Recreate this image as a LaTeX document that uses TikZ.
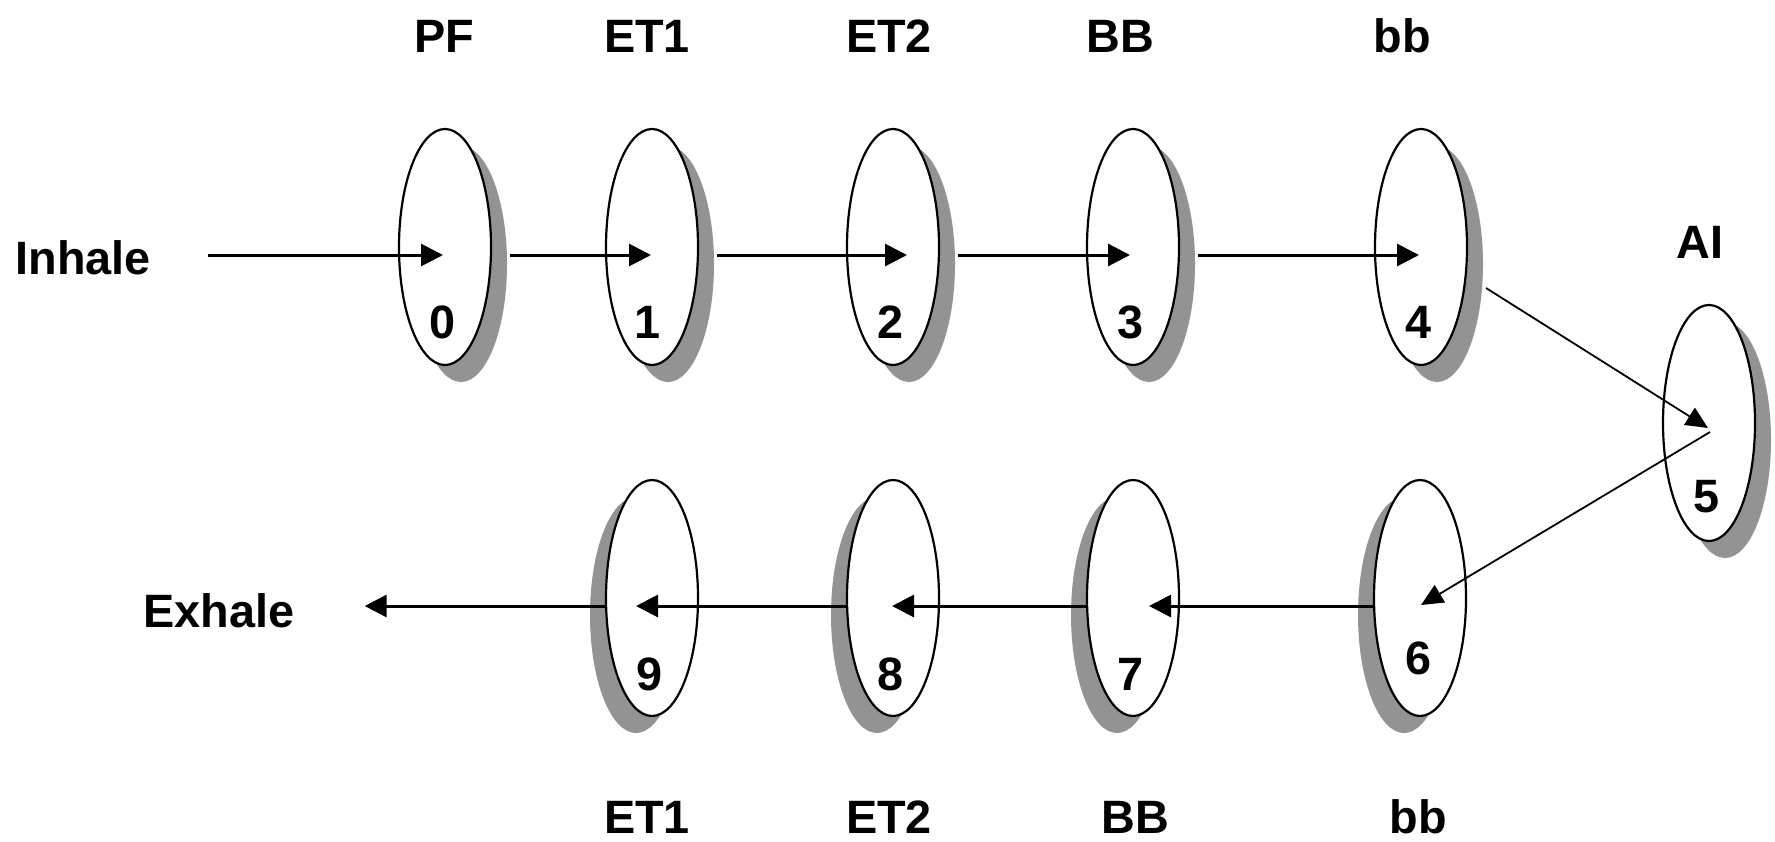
\documentclass[tikz,border=0pt]{standalone}
\usepackage{fontspec}
\setmainfont{Liberation Sans}
\usetikzlibrary{shapes.geometric,shadows,arrows.meta}
\definecolor{shadowgray}{RGB}{147,147,147}
\begin{document}
\begin{tikzpicture}[x=0.5pt,y=-0.5pt,
  disc/.style={ellipse, draw, line width=1.1pt, fill=white, minimum width=46pt, minimum height=118pt, inner sep=0pt},
  shR/.style={drop shadow={shadow xshift=8pt, shadow yshift=-8.5pt, fill=shadowgray, opacity=1}},
  shL/.style={drop shadow={shadow xshift=-8pt, shadow yshift=-8.5pt, fill=shadowgray, opacity=1}},
  lbl/.style={font=\fontsize{23.4}{28}\selectfont\bfseries, inner sep=0pt, anchor=base},
  harr/.style={line width=1.5pt, -{Triangle[length=11pt,width=11pt]}},
  darr/.style={line width=0.9pt, -{Triangle[length=11pt,width=10pt]}}]
\useasboundingbox (0,0) rectangle (1775,841);
% discs
\node[disc,shR] (e0) at (445,247) {};
\node[disc,shR] (e1) at (652,247) {};
\node[disc,shR] (e2) at (893,247) {};
\node[disc,shR] (e3) at (1133,247) {};
\node[disc,shR] (e4) at (1421,247) {};
\node[disc,shR] (e5) at (1709,423) {};
\node[disc,shL] (e6) at (1420,598) {};
\node[disc,shL] (e7) at (1133,598) {};
\node[disc,shL] (e8) at (893,598) {};
\node[disc,shL] (e9) at (652,598) {};
% side labels
\node[lbl,anchor=base west] (inhale) at (15,274) {Inhale};
\node[lbl,anchor=base west] (exhale) at (143,627) {Exhale};
% top labels
\node[lbl] (tPF) at (444,52) {PF};
\node[lbl] (tET1) at (647,52) {ET1};
\node[lbl] (tET2) at (889,52) {ET2};
\node[lbl] (tBB) at (1120,52) {BB};
\node[lbl] (tbb) at (1402,52) {bb};
\node[lbl] (tAI) at (1700,258) {AI};
% bottom labels
\node[lbl] (bET1) at (647,833) {ET1};
\node[lbl] (bET2) at (889,833) {ET2};
\node[lbl] (bBB) at (1135,833) {BB};
\node[lbl] (bbb) at (1418,833) {bb};
% arrows
\draw[harr] ([shift={(57,-19)}]inhale.base east) -- ([shift={(-2,8)}]e0.center);
\draw[harr] ([shift={(18,8)}]e0.east) -- ([shift={(-1,8)}]e1.center);
\draw[harr] ([shift={(18,8)}]e1.east) -- ([shift={(14,8)}]e2.center);
\draw[harr] ([shift={(18,8)}]e2.east) -- ([shift={(-3,8)}]e3.center);
\draw[harr] ([shift={(18,8)}]e3.east) -- ([shift={(-2,8)}]e4.center);
\draw[darr] ([shift={(65,41)}]e4.center) -- ([shift={(-1,5)}]e5.center);
\draw[darr] ([shift={(1,9)}]e5.center) -- ([shift={(1,7)}]e6.center);
\draw[harr] ([shift={(0,8)}]e6.west) -- ([shift={(16,8)}]e7.center);
\draw[harr] ([shift={(0,8)}]e7.west) -- ([shift={(-1,8)}]e8.center);
\draw[harr] ([shift={(0,8)}]e8.west) -- ([shift={(-16,8)}]e9.center);
\draw[harr] ([shift={(0,8)}]e9.west) -- ([shift={(70,-21)}]exhale.base east);
% numbers
\node[lbl] (n0) at (443,338) {0};
\node[lbl] (n1) at (648,338) {1};
\node[lbl] (n2) at (890,338) {2};
\node[lbl] (n3) at (1130,338) {3};
\node[lbl] (n4) at (1418,338) {4};
\node[lbl] (n5) at (1706,512) {5};
\node[lbl] (n6) at (1418,674) {6};
\node[lbl] (n7) at (1130,690) {7};
\node[lbl] (n8) at (890,690) {8};
\node[lbl] (n9) at (650,690) {9};
\end{tikzpicture}
\end{document}
